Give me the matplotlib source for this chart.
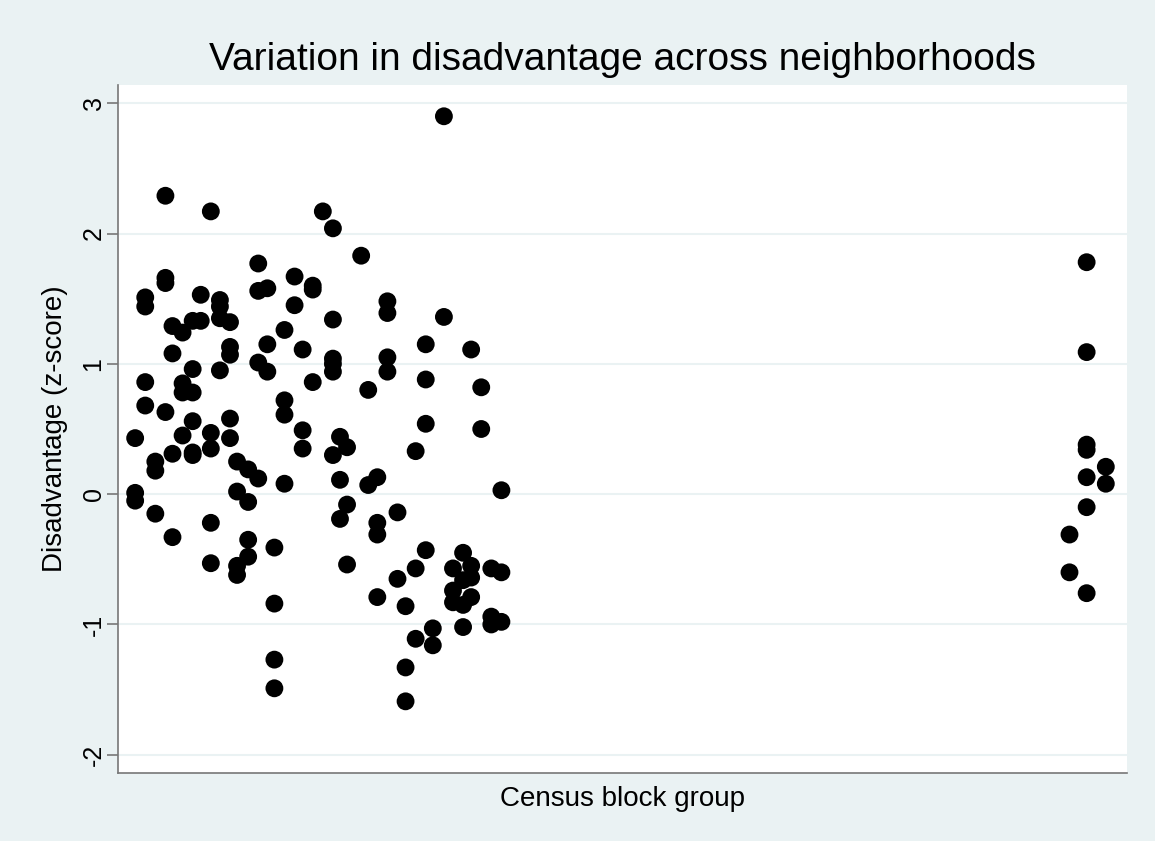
import matplotlib
matplotlib.use("Agg")
import matplotlib.pyplot as plt
import numpy as np

plt.rcParams['font.family'] = ['Liberation Sans', 'DejaVu Sans']

# Data: (block group position, disadvantage z-score) grouped by column
cols = [
    (1.7,  [0.43, 0.01, -0.05]),
    (2.7,  [1.51, 1.44, 0.86, 0.68]),
    (3.7,  [0.25, 0.18, -0.15]),
    (4.7,  [2.29, 1.66, 1.62, 0.63]),
    (5.4,  [1.29, 1.08, 0.31, -0.33]),
    (6.4,  [1.24, 0.85, 0.78, 0.45]),
    (7.4,  [1.33, 0.96, 0.78, 0.56, 0.32, 0.30]),
    (8.2,  [1.53, 1.33]),
    (9.2,  [2.17, 0.47, 0.35, -0.22, -0.53]),
    (10.1, [1.49, 1.44, 1.35, 0.95]),
    (11.1, [1.32, 1.13, 1.07, 0.58, 0.43]),
    (11.8, [0.25, 0.02, -0.55, -0.62]),
    (12.9, [0.19, -0.06, -0.35, -0.48]),
    (13.9, [1.77, 1.56, 1.01, 0.12]),
    (14.8, [1.58, 1.15, 0.94]),
    (15.5, [-0.41, -0.84, -1.27, -1.49]),
    (16.5, [1.26, 0.72, 0.61, 0.08]),
    (17.5, [1.67, 1.45]),
    (18.3, [1.11, 0.49, 0.35]),
    (19.3, [1.60, 1.57, 0.86]),
    (20.3, [2.17]),
    (21.3, [2.04, 1.34, 1.04, 1.00, 0.94, 0.30]),
    (22.0, [0.44, 0.11, -0.19]),
    (22.7, [0.36, -0.08, -0.54]),
    (24.1, [1.83]),
    (24.8, [0.80, 0.07]),
    (25.7, [0.13, -0.22, -0.31, -0.79]),
    (26.7, [1.48, 1.39, 1.05, 0.94]),
    (27.7, [-0.14, -0.65]),
    (28.5, [-0.86, -1.33, -1.59]),
    (29.5, [0.33, -0.57, -1.11]),
    (30.5, [1.15, 0.88, 0.54, -0.43]),
    (31.2, [-1.03, -1.16]),
    (32.3, [2.90, 1.36]),
    (33.2, [-0.57, -0.74, -0.83]),
    (34.2, [-0.45, -0.66, -0.85, -1.02]),
    (35.0, [1.11, -0.55, -0.64, -0.79]),
    (36.0, [0.82, 0.50]),
    (37.0, [-0.57, -0.94, -1.00]),
    (38.0, [0.03, -0.60, -0.98]),
    (94.3, [-0.31, -0.60]),
    (96.0, [1.78, 1.09, 0.38, 0.34, 0.13, -0.10, -0.76]),
    (97.9, [0.21, 0.08]),
]

block_group = [x for x, ys in cols for _ in ys]
disadvantage = [y for _, ys in cols for y in ys]

yticks = [-2, -1, 0, 1, 2, 3]
title = "Variation in disadvantage across neighborhoods"
xlabel = "Census block group"
ylabel = "Disadvantage (z-score)"

bg = "#EAF2F3"
fig = plt.figure(figsize=(11.55, 8.41), dpi=100, facecolor=bg)
ax = fig.add_axes([118/1155, 1-773/841, (1127-118)/1155, (773-85)/841])
ax.set_facecolor("white")

ax.scatter(block_group, disadvantage, s=165, c="black", edgecolors="none", zorder=3)

ax.set_xlim(0, 100)
ax.set_ylim(-2.14, 3.14)
ax.set_yticks(yticks)
ax.set_yticklabels([str(t) for t in yticks], rotation=90, va="center", fontsize=18)
ax.set_xticks([])
ax.yaxis.grid(True, color=bg, linewidth=1.5, zorder=0)
ax.set_axisbelow(True)

for s in ["top", "right"]:
    ax.spines[s].set_visible(False)
for s in ["left", "bottom"]:
    ax.spines[s].set_color("#777777")
    ax.spines[s].set_linewidth(1.2)
ax.tick_params(axis="y", length=8, width=1.2, color="#777777", pad=1)

ax.set_xlabel(xlabel, fontsize=20, labelpad=9)
ax.set_ylabel(ylabel, fontsize=20, labelpad=10)
fig.text((118+1127)/2/1155, 1-60/841, title, ha="center", va="center", fontsize=28)

fig.savefig("out.png", dpi=100, facecolor=bg)
